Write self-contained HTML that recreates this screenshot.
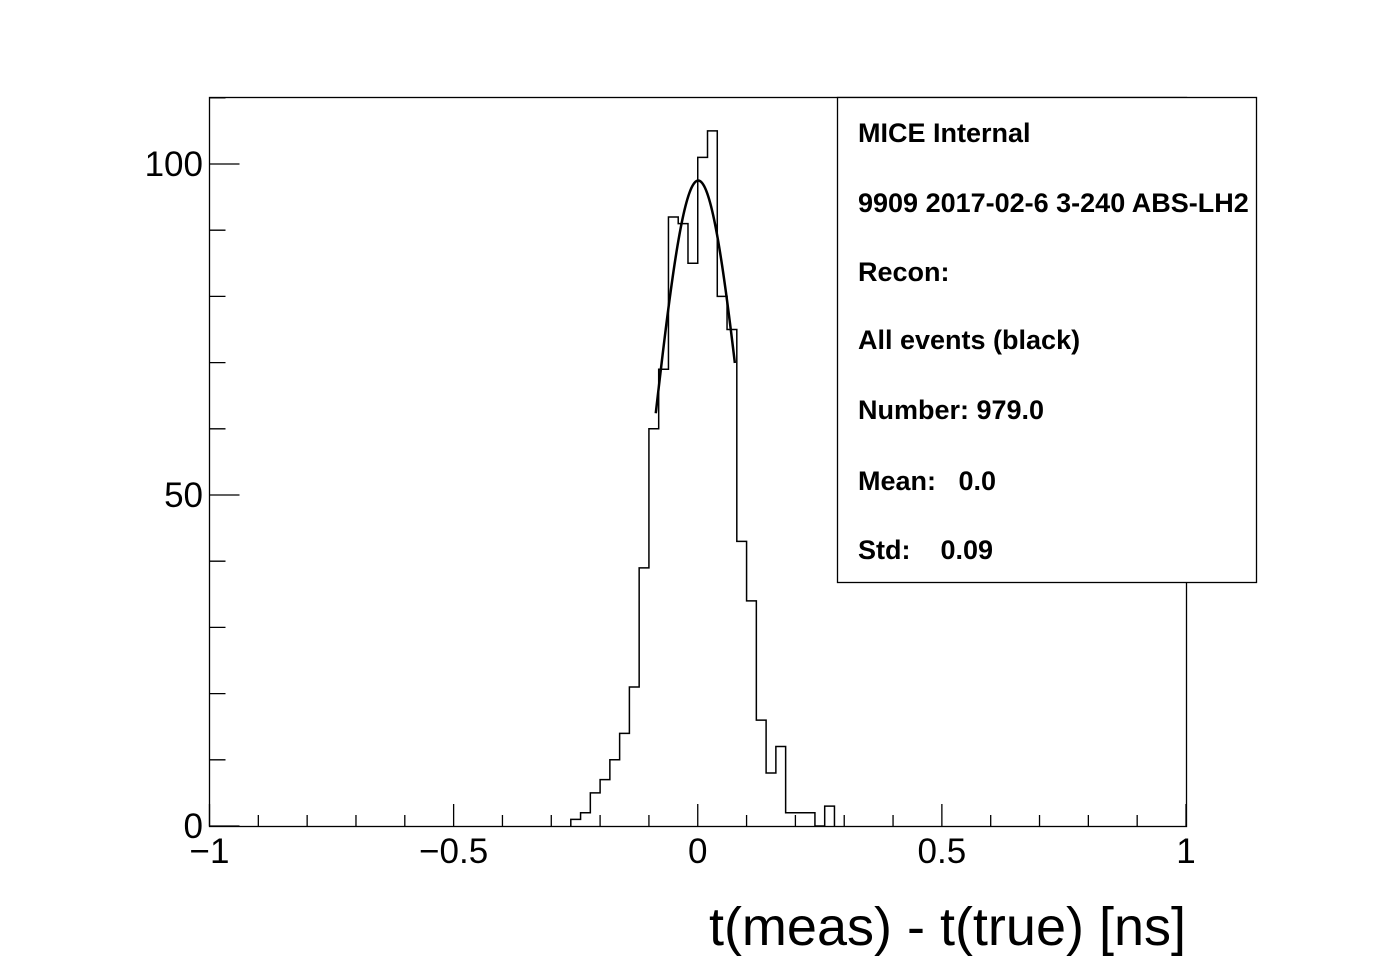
<!DOCTYPE html>
<html><head><meta charset="utf-8"><style>
body{margin:0;background:#fff}
svg text{font-family:"Liberation Sans",sans-serif}
</style></head><body>
<svg id="c" width="1396" height="972" xmlns="http://www.w3.org/2000/svg">
<rect x="0" y="0" width="1396" height="972" fill="#fff"/>
<g id="ticks"></g>
<path id="hist" fill="none" stroke="#000" stroke-width="1.5"/>
<path id="fit" fill="none" stroke="#000" stroke-width="2.5"/>
<rect x="209.5" y="97.5" width="977" height="729" fill="none" stroke="#000" stroke-width="1.3"/>
<g id="labels" font-size="35"></g>
<text x="1186" y="945" font-size="54" text-anchor="end">t(meas) - t(true) [ns]</text>
<g>
<rect x="837.5" y="97.5" width="419" height="485" fill="#fff" stroke="#000" stroke-width="1.3"/>
<g font-size="27" font-weight="bold">
<text x="858" y="142">MICE Internal</text>
<text x="858" y="212">9909 2017-02-6 3-240 ABS-LH2</text>
<text x="858" y="281">Recon:</text>
<text x="858" y="349">All events (black)</text>
<text x="858" y="419">Number: 979.0</text>
<text x="858" y="490" xml:space="preserve">Mean:   0.0</text>
<text x="858" y="559" xml:space="preserve">Std:    0.09</text>
</g></g>
</svg>
<script>
const binStart = -0.26;
const binWidth = 0.02;
const counts = [1,2,5,7,10,14,21,39,60,69,92,91,85,101,105,80,75,43,34,16,8,12,2,2,2,0,3];
const xTickLabels = ["\u22121","\u22120.5","0","0.5","1"];
const xTickValues = [-1,-0.5,0,0.5,1];
const yTickValues = [0,50,100];
const fitAmp = 97.5, fitMean = 0.001, fitSigma = 0.092, fitMin = -0.086, fitMax = 0.076;

const X = v => 209.5 + (v + 1) / 2 * 976.5;
const Y = c => 826 - c * 6.62;
const NS = "http://www.w3.org/2000/svg";
let d = "M" + X(binStart) + "," + Y(0);
counts.forEach((c, i) => {
  const x0 = X(binStart + i * binWidth), x1 = X(binStart + (i + 1) * binWidth);
  d += " L" + x0 + "," + Y(c) + " L" + x1 + "," + Y(c);
});
d += " L" + X(binStart + counts.length * binWidth) + "," + Y(0);
document.getElementById("hist").setAttribute("d", d);

let f = "";
for (let i = 0; i <= 80; i++) {
  const v = fitMin + (fitMax - fitMin) * i / 80;
  const c = fitAmp * Math.exp(-0.5 * Math.pow((v - fitMean) / fitSigma, 2));
  f += (i ? " L" : "M") + X(v) + "," + Y(c);
}
document.getElementById("fit").setAttribute("d", f);

const tg = document.getElementById("ticks");
let td = "";
for (let k = 0; k <= 20; k++) {
  const v = -1 + k * 0.1, major = k % 5 === 0;
  td += " M" + X(v) + ",826 L" + X(v) + "," + (826 - (major ? 22 : 11));
}
for (let k = 0; k <= 11; k++) {
  const c = k * 10, major = k % 5 === 0;
  td += " M209.5," + Y(c) + " L" + (209.5 + (major ? 30 : 16)) + "," + Y(c);
}
const tp = document.createElementNS(NS, "path");
tp.setAttribute("d", td);
tp.setAttribute("stroke", "#000");
tp.setAttribute("stroke-width", "1.3");


tg.appendChild(tp);

const lg = document.getElementById("labels");
xTickValues.forEach((v, i) => {
  const t = document.createElementNS(NS, "text");
  t.setAttribute("x", X(v));
  t.setAttribute("y", 863);
  t.setAttribute("text-anchor", "middle");
  t.textContent = xTickLabels[i];
  
  
  lg.appendChild(t);
});
yTickValues.forEach(c => {
  const t = document.createElementNS(NS, "text");
  t.setAttribute("x", 203);
  t.setAttribute("y", Y(c) + 12);
  t.setAttribute("text-anchor", "end");
  t.textContent = String(c);
  
  
  lg.appendChild(t);
});
</script>
</body></html>
